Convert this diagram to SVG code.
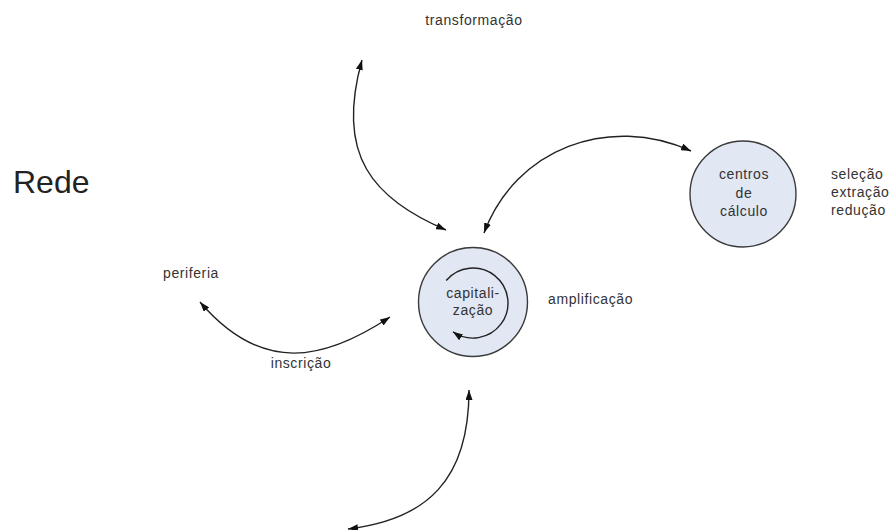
<svg xmlns="http://www.w3.org/2000/svg" width="889" height="530" viewBox="0 0 889 530">
  <style>
    .lbl { font-family: "Liberation Sans", Arial, sans-serif; font-size: 14px; letter-spacing: 0.6px; fill: #333; }
    .mid { text-anchor: middle; }
    .title { font-family: "Liberation Sans", Arial, sans-serif; font-size: 32px; fill: #222; }
    .node { fill: #e1e7f3; stroke: #3a3a3a; stroke-width: 1.4; }
    .link { fill: none; stroke: #222; stroke-width: 1.4; }
  </style>
  <defs>
    <marker id="head" viewBox="0 0 10 7" refX="10" refY="3.5" markerWidth="10" markerHeight="7" markerUnits="userSpaceOnUse" orient="auto-start-reverse">
      <path d="M0,0 L10,3.5 L0,7 z" fill="#111"/>
    </marker>
  </defs>

  <rect width="889" height="530" fill="#ffffff"/>

  <text class="title" x="13" y="193">Rede</text>

  <!-- free labels around the network -->
  <text class="lbl mid" x="474" y="25">transformação</text>
  <text class="lbl" x="163" y="278">periferia</text>
  <text class="lbl mid" x="301" y="368">inscrição</text>
  <text class="lbl" x="548" y="304">amplificação</text>
  <text class="lbl" x="831" y="179">seleção</text>
  <text class="lbl" x="831" y="197">extração</text>
  <text class="lbl" x="831" y="215">redução</text>

  <g id="capitalizacao">
    <circle class="node" cx="473" cy="302" r="54.5"/>
    <path class="link" d="M446.2 280.5 A35 35 0 1 1 452.9 331.7" marker-end="url(#head)"/>
    <text class="lbl mid" x="473" y="298">capitali-</text>
    <text class="lbl mid" x="473" y="315">zação</text>
  </g>

  <g id="centros">
    <circle class="node" cx="743" cy="194" r="53"/>
    <text class="lbl mid" x="744" y="179">centros</text>
    <text class="lbl mid" x="744" y="198">de</text>
    <text class="lbl mid" x="744" y="216">cálculo</text>
  </g>

  <g id="connectors">
    <path class="link" d="M362 60 C335 156 373 198 446 230" marker-start="url(#head)" marker-end="url(#head)"/>
    <path class="link" d="M484 233 C515.5 148.4 609 114 691 151" marker-start="url(#head)" marker-end="url(#head)"/>
    <path class="link" d="M200 302 C261.75 374.2 323.6 361 390 317" marker-start="url(#head)" marker-end="url(#head)"/>
    <path class="link" d="M469 390 C469 480 427.2 519.4 348 529" marker-start="url(#head)" marker-end="url(#head)"/>
  </g>
</svg>
